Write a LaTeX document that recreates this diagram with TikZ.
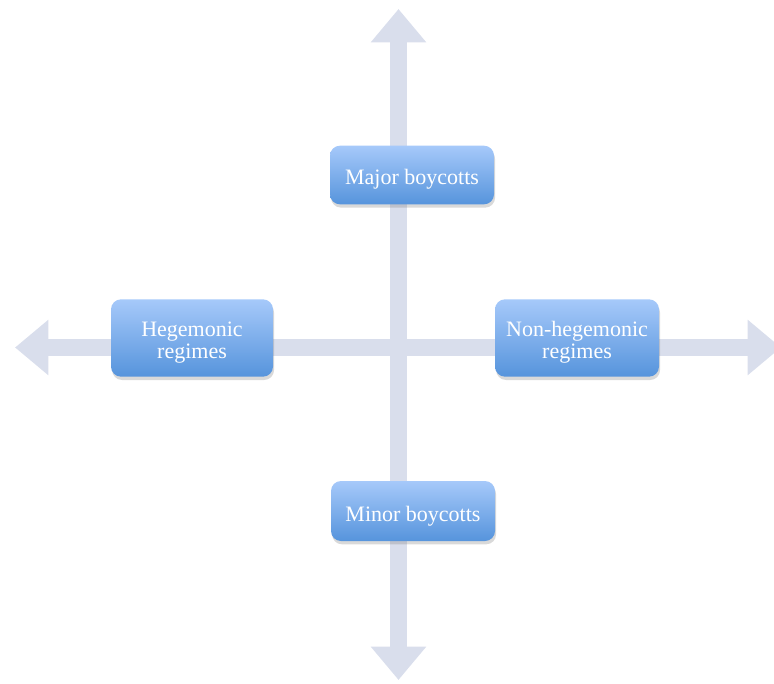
\documentclass[tikz,border=0pt]{standalone}
\usepackage{fontspec}
\setmainfont{Liberation Serif}
\usetikzlibrary{arrows.meta,shadows}
\definecolor{axisgray}{RGB}{217,222,236}
\definecolor{boxtop}{RGB}{166,201,250}
\definecolor{boxbot}{RGB}{86,148,220}

\begin{document}
\begin{tikzpicture}[x=0.75pt, y=-0.75pt,
    main/.style = {rounded corners=7.5pt, top color=boxtop, bottom color=boxbot,
        text=white, align=center, minimum width=123pt,
        font=\fontsize{16.5}{16}\selectfont, text depth=0pt,
        drop shadow={shadow xshift=0.8pt, shadow yshift=-2.5pt, opacity=0.3}},
    axis/.style = {draw=axisgray, line width=12.75pt,
        {Triangle[width=40pt, length=25pt]}-{Triangle[width=40pt, length=25pt]}}]
    \useasboundingbox (0,0) rectangle (774,684);
    % axes
    \coordinate (top) at (398.5,9);
    \coordinate (bottom) at (398.5,680);
    \coordinate (left) at (15,347.5);
    \coordinate (right) at (781,347.5);
    \draw[axis] (left) -- (right);
    \draw[axis] (top) -- (bottom);
    % boxes
    \node[main, minimum height=44pt, text height=15pt] (major) at (412,175) {Major boycotts};
    \node[main, minimum height=58pt, text height=30pt, minimum width=121.5pt] (hegem) at (192,338) {Hegemonic\\regimes};
    \node[main, minimum height=58pt, text height=30pt] (nonhegem) at (577,338) {Non-hegemonic\\regimes};
    \node[main, minimum height=45pt, text height=15pt] (minor) at (413,511) {Minor boycotts};
\end{tikzpicture}
\end{document}
